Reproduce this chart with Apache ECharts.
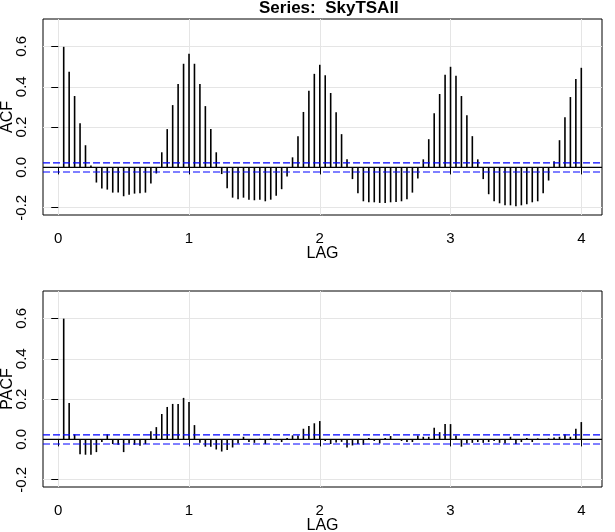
<!DOCTYPE html>
<html><head><meta charset="utf-8">
<script src="https://cdn.jsdelivr.net/npm/echarts@6/dist/echarts.min.js"></script>
<style>html,body{margin:0;padding:0;background:#fff}#c{width:615px;height:532px}</style>
</head><body><div id="c"></div>
<script>
// Lags are k/24, k = 1..96
const seriesName = 'SkyTSAll';
const acfValues = [
 0.598,0.474,0.354,0.219,0.110,0.010,-0.075,-0.105,-0.110,-0.125,-0.125,-0.143,
 -0.135,-0.130,-0.128,-0.125,-0.080,-0.030,0.075,0.190,0.309,0.414,0.514,0.564,
 0.514,0.414,0.304,0.190,0.075,-0.033,-0.103,-0.150,-0.158,-0.150,-0.160,-0.163,
 -0.160,-0.168,-0.160,-0.140,-0.108,-0.045,0.050,0.155,0.275,0.380,0.464,0.509,
 0.457,0.369,0.274,0.165,0.040,-0.058,-0.128,-0.168,-0.173,-0.173,-0.176,-0.176,
 -0.173,-0.171,-0.168,-0.158,-0.125,-0.055,0.040,0.140,0.269,0.364,0.459,0.499,
 0.454,0.354,0.259,0.155,0.040,-0.058,-0.133,-0.168,-0.178,-0.188,-0.188,-0.193,
 -0.188,-0.183,-0.173,-0.168,-0.128,-0.065,0.030,0.135,0.249,0.349,0.439,0.494
];
const pacfValues = [
 0.599,0.181,0.025,-0.073,-0.076,-0.076,-0.063,-0.013,0.025,-0.023,-0.027,-0.063,
 -0.020,-0.027,-0.032,-0.023,0.041,0.061,0.126,0.161,0.176,0.176,0.206,0.186,
 0.071,-0.017,-0.036,-0.036,-0.050,-0.060,-0.053,-0.040,-0.020,0.013,-0.013,-0.017,
 0.003,-0.023,0.005,-0.005,-0.013,0.007,0.020,0.020,0.053,0.066,0.080,0.091,
 -0.008,-0.023,-0.015,-0.012,-0.040,-0.030,-0.023,-0.027,0.007,-0.008,-0.020,0.007,
 0.017,-0.003,-0.008,-0.013,-0.013,0.020,0.013,0.013,0.058,0.036,0.076,0.076,
 0.020,-0.036,-0.020,-0.017,-0.013,-0.017,-0.013,-0.008,-0.017,-0.020,0.013,-0.023,
 -0.013,0.007,-0.013,0.005,0.002,0.005,0.010,0.013,0.026,0.013,0.053,0.086
];
const lagsPerUnit = 24;
const confLimit = 0.0225;
const refLevels = [0, confLimit, -confLimit];
const xTicks = [0,1,2,3,4];
const yTicks = [-0.2,0,0.2,0.4,0.6];
const xRange = [-0.116667, 4.158333];
const yRange = [-0.236, 0.736];

const FONT = '"Liberation Sans", Arial, sans-serif';
function toPairs(vals){ return vals.map((v,i)=>[(i+1)/lagsPerUnit, v]); }

function xAxis(gi){
  return {
    type:'value', gridIndex:gi, min:xRange[0], max:xRange[1],
    name:'LAG', nameLocation:'middle', nameGap:31, nameMoveOverlap:false,
    nameTextStyle:{color:'#000', fontSize:16, fontFamily:FONT},
    axisLine:{show:false},
    axisTick:{show:true, inside:false, length:7, customValues:xTicks, lineStyle:{color:'#000', width:1}},
    axisLabel:{show:true, customValues:xTicks, margin:16, color:'#000', fontSize:15, fontFamily:FONT},
    splitLine:{show:true, lineStyle:{color:'#e5e5e5', width:1}}
  };
}
function yAxis(gi, name){
  return {
    type:'value', gridIndex:gi, min:yRange[0], max:yRange[1],
    name:name, nameLocation:'middle', nameGap:27, nameRotate:90, nameMoveOverlap:false,
    nameTextStyle:{color:'#000', fontSize:16, fontFamily:FONT},
    axisLine:{show:false},
    axisTick:{show:true, inside:false, length:7, customValues:yTicks, lineStyle:{color:'#000', width:1}},
    axisLabel:{show:true, customValues:yTicks, rotate:90, margin:14, color:'#000', fontSize:15, fontFamily:FONT,
      formatter:v=>v.toFixed(1)},
    splitLine:{show:true, lineStyle:{color:'#e5e5e5', width:1}}
  };
}
function stemSeries(gi, vals){
  return {
    type:'custom', xAxisIndex:gi, yAxisIndex:gi, data:toPairs(vals),
    silent:true, animation:false, clip:true, z:3,
    renderItem:function(params, api){
      const x = api.value(0), y = api.value(1);
      const p0 = api.coord([x, 0]), p1 = api.coord([x, y]);
      return {type:'line', shape:{x1:p0[0], y1:p0[1], x2:p1[0], y2:p1[1]},
        style:{stroke:'#000', lineWidth:1.6}};
    }
  };
}
function refSeries(gi){
  return {
    type:'custom', xAxisIndex:gi, yAxisIndex:gi,
    data:refLevels.map(l => [xTicks[0], l]),
    silent:true, animation:false, z:4,
    renderItem:function(params, api){
      const cs = params.coordSys;
      const level = api.value(1);
      const py = api.coord([api.value(0), level])[1];
      const isZero = level === 0;
      return {type:'line', shape:{x1:cs.x, y1:py, x2:cs.x + cs.width, y2:py},
        style: isZero ? {stroke:'#000000', lineWidth:1.3}
                      : {stroke:'#0000ff', lineWidth:1.1, lineDash:[7,3]}};
    }
  };
}
const chart = echarts.init(document.getElementById('c'), null, {renderer:'canvas'});
chart.setOption({
  animation:false,
  backgroundColor:'#fff',
  title:{text:'Series:  ' + seriesName, left:254, top:-5,
    textStyle:{fontSize:17, fontWeight:'bold', color:'#000', fontFamily:FONT}},
  grid:[
    {left:43, top:19, width:559, height:196, show:true, borderColor:'#000', borderWidth:1,
     backgroundColor:'transparent', outerBoundsMode:'none', containLabel:false},
    {left:43, top:291, width:559, height:196, show:true, borderColor:'#000', borderWidth:1,
     backgroundColor:'transparent', outerBoundsMode:'none', containLabel:false}
  ],
  xAxis:[xAxis(0), xAxis(1)],
  yAxis:[yAxis(0,'ACF'), yAxis(1,'PACF')],
  series:[stemSeries(0, acfValues), refSeries(0), stemSeries(1, pacfValues), refSeries(1)]
});
</script></body></html>
